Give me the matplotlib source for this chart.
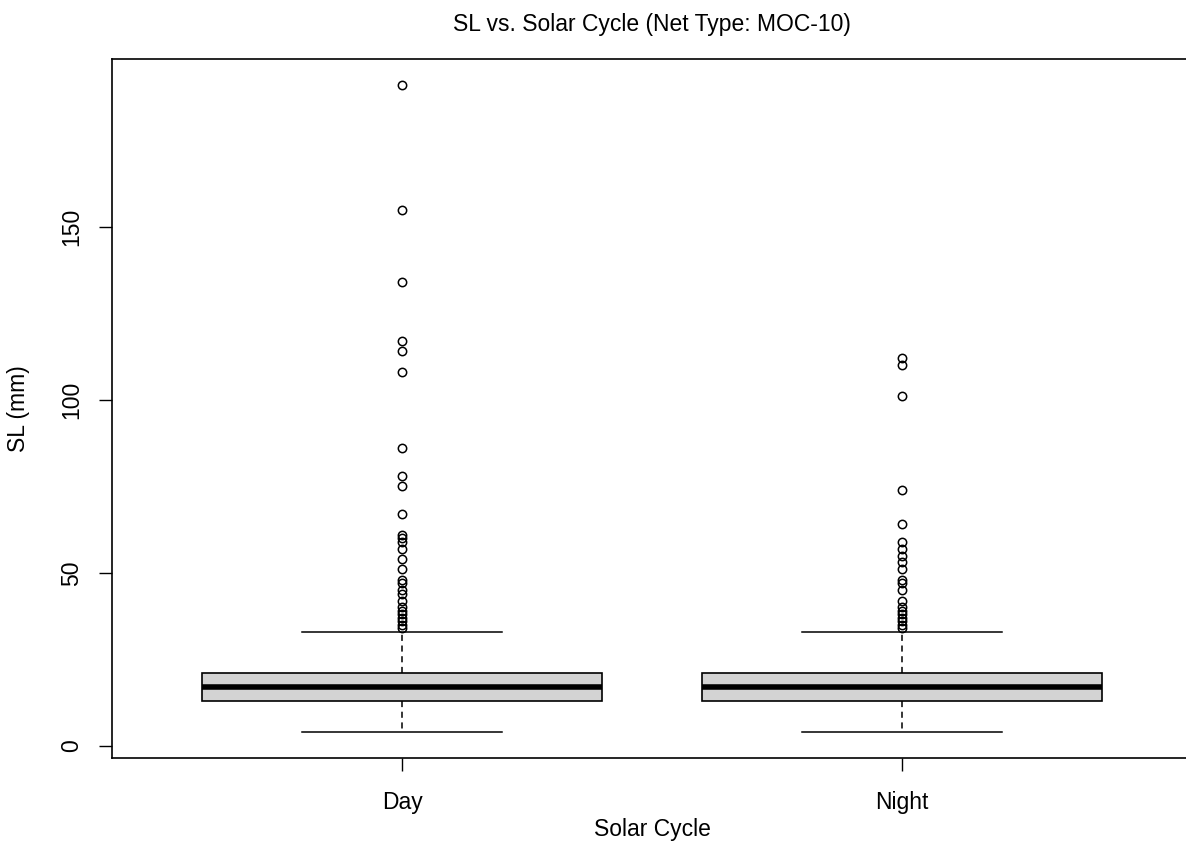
import matplotlib.pyplot as plt

# Boxplot summary values
groups = ['Day', 'Night']
q1 = [13, 13]
median = [17, 17]
q3 = [21, 21]
whisker_low = [4, 4]
whisker_high = [33, 33]

day_outliers = [34, 35, 36, 37, 38, 39, 40, 42, 44, 45, 47, 48, 51, 54, 57,
                59, 60, 61, 67, 75, 78, 86, 108, 114, 117, 134, 155, 191]
night_outliers = [34, 35, 36, 37, 38, 39, 40, 42, 45, 47, 48, 51, 53, 55, 57,
                  59, 64, 74, 101, 110, 112]
outliers = [day_outliers, night_outliers]

plt.rcParams['font.family'] = ['Liberation Sans', 'DejaVu Sans']
fs = 16.5

stats = []
for i, name in enumerate(groups):
    stats.append({
        'label': name,
        'q1': q1[i],
        'med': median[i],
        'q3': q3[i],
        'whislo': whisker_low[i],
        'whishi': whisker_high[i],
        'fliers': outliers[i],
    })

fig = plt.figure(figsize=(11.86, 8.42), dpi=100)
ax = fig.add_axes([112 / 1186, 84 / 842, 1080 / 1186, 699 / 842])

ax.bxp(stats, positions=[1, 2], widths=0.8, patch_artist=True,
       boxprops=dict(facecolor='#d3d3d3', edgecolor='black', linewidth=1.2),
       medianprops=dict(color='black', linewidth=4),
       whiskerprops=dict(color='black', linewidth=1.1, linestyle=(0, (4, 3))),
       capprops=dict(color='black', linewidth=1.1),
       capwidths=0.4,
       flierprops=dict(marker='o', markerfacecolor='none', markeredgecolor='black',
                       markersize=6, markeredgewidth=1.1))

ax.set_xlim(0.42, 2.58)
ax.set_ylim(-3.5, 198.5)
ax.set_yticks([0, 50, 100, 150])
ax.set_xticks([1, 2])
ax.set_xticklabels(groups)
ax.tick_params(axis='both', length=9.5, width=1, labelsize=fs, color='black')
ax.tick_params(axis='y', pad=11)
ax.tick_params(axis='x', pad=14)
for lab in ax.get_yticklabels():
    lab.set_rotation(90)
    lab.set_va('center')

for sp in ax.spines.values():
    sp.set_linewidth(1.2)

ax.set_title('SL vs. Solar Cycle (Net Type: MOC-10)', fontsize=fs, pad=20)
ax.set_xlabel('Solar Cycle', fontsize=fs, labelpad=3)
ax.set_ylabel('SL (mm)', fontsize=fs, labelpad=22)

fig.savefig('out.png', dpi=100)
